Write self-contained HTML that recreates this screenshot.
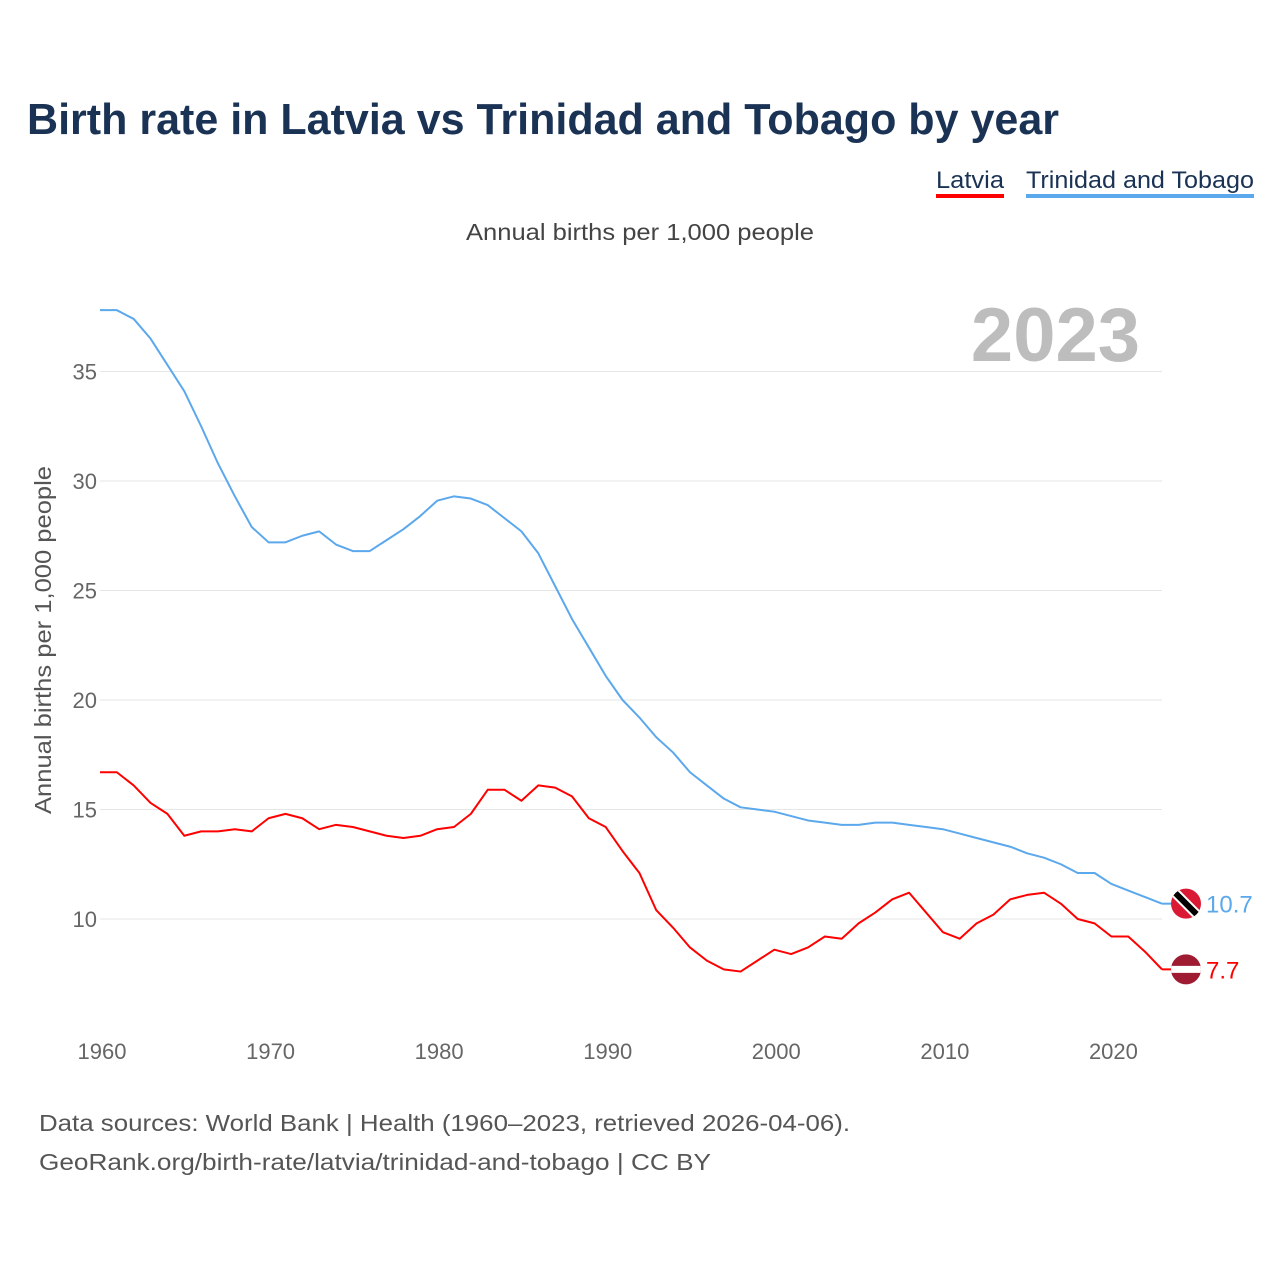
<!DOCTYPE html>
<html><head><meta charset="utf-8"><style>
body{margin:0;background:#fff;width:1280px;height:1280px;overflow:hidden;font-family:"Liberation Sans",sans-serif}
</style></head><body>
<svg id="chart" width="1280" height="1280" xmlns="http://www.w3.org/2000/svg">
<text x="27" y="134" font-size="44" font-weight="bold" fill="#1a3355" textLength="1032" lengthAdjust="spacingAndGlyphs">Birth rate in Latvia vs Trinidad and Tobago by year</text>
<g><text x="936" y="188" font-size="24" fill="#1a3355" textLength="68" lengthAdjust="spacingAndGlyphs">Latvia</text><rect x="936" y="194" width="68" height="4" fill="#ff0000"/></g>
<g><text x="1026" y="188" font-size="24" fill="#1a3355" textLength="228" lengthAdjust="spacingAndGlyphs">Trinidad and Tobago</text><rect x="1026" y="194" width="228" height="4" fill="#5ba8ec"/></g>
<text x="466" y="240" font-size="23" fill="#444" textLength="348" lengthAdjust="spacingAndGlyphs">Annual births per 1,000 people</text>
<text x="1140" y="361" font-size="76" font-weight="bold" fill="#bdbdbd" text-anchor="end">2023</text>
<text transform="translate(51,640) rotate(-90)" font-size="23" fill="#555" text-anchor="middle" textLength="348" lengthAdjust="spacingAndGlyphs">Annual births per 1,000 people</text>
<g id="grid"></g><g id="series"></g>
<text x="39" y="1131" font-size="23" fill="#555" textLength="811" lengthAdjust="spacingAndGlyphs">Data sources: World Bank | Health (1960–2023, retrieved 2026-04-06).</text>
<text x="39" y="1170" font-size="23" fill="#555" textLength="672" lengthAdjust="spacingAndGlyphs">GeoRank.org/birth-rate/latvia/trinidad-and-tobago | CC BY</text>
</svg>
<script>
const years=[];for(let y=1960;y<=2023;y++)years.push(y);
const latvia=[16.7,16.7,16.1,15.3,14.8,13.8,14.0,14.0,14.1,14.0,14.6,14.8,14.6,14.1,14.3,14.2,14.0,13.8,13.7,13.8,14.1,14.2,14.8,15.9,15.9,15.4,16.1,16.0,15.6,14.6,14.2,13.1,12.1,10.4,9.6,8.7,8.1,7.7,7.6,8.1,8.6,8.4,8.7,9.2,9.1,9.8,10.3,10.9,11.2,10.3,9.4,9.1,9.8,10.2,10.9,11.1,11.2,10.7,10.0,9.8,9.2,9.2,8.5,7.7];
const trinidad=[37.8,37.8,37.4,36.5,35.3,34.1,32.5,30.8,29.3,27.9,27.2,27.2,27.5,27.7,27.1,26.8,26.8,27.3,27.8,28.4,29.1,29.3,29.2,28.9,28.3,27.7,26.7,25.2,23.7,22.4,21.1,20.0,19.2,18.3,17.6,16.7,16.1,15.5,15.1,15.0,14.9,14.7,14.5,14.4,14.3,14.3,14.4,14.4,14.3,14.2,14.1,13.9,13.7,13.5,13.3,13.0,12.8,12.5,12.1,12.1,11.6,11.3,11.0,10.7];
const yTicks=[10,15,20,25,30,35];
const xTicks=[1960,1970,1980,1990,2000,2010,2020];
const X=y=>100+(y-1960)*(1062/63);
const Y=v=>919-(v-10)*21.9;
const NS="http://www.w3.org/2000/svg";
const grid=document.getElementById('grid'),ser=document.getElementById('series');
function mk(tag,attrs,parent){const e=document.createElementNS(NS,tag);for(const k in attrs)e.setAttribute(k,attrs[k]);parent.appendChild(e);return e;}
yTicks.forEach(t=>{
 const l=mk('line',{x1:100,x2:1162,y1:Y(t),y2:Y(t),stroke:'#e6e6e6','stroke-width':1},grid);
 
 
 const tx=mk('text',{x:97,y:Y(t)+8,'font-size':22,fill:'#666','text-anchor':'end'},grid);tx.textContent=t;
 
 
});
xTicks.forEach(t=>{
 const tx=mk('text',{x:X(t)+2,y:1059,'font-size':22,fill:'#666','text-anchor':'middle'},grid);tx.textContent=t;
 
 
});
function line(data,color,name){
 const p=mk('polyline',{points:data.map((v,i)=>X(years[i])+','+Y(v)).join(' '),fill:'none',stroke:color,'stroke-width':2,'stroke-linejoin':'round'},ser);
 
 
}
line(trinidad,'#5ba8ec','line-trinidad');
line(latvia,'#ff0000','line-latvia');
const last=years.length-1,fx=1186;
const ty=Y(trinidad[last]);
mk('line',{x1:X(years[last]),x2:fx-14,y1:ty,y2:ty,stroke:'#5ba8ec','stroke-width':2},ser);
const tg=mk('g',{},ser);


mk('clipPath',{id:'ct'},tg);mk('circle',{cx:fx,cy:ty,r:15},tg.lastChild);
mk('circle',{cx:fx,cy:ty,r:15,fill:'#da1a35'},tg);
mk('line',{x1:fx-15,y1:ty-15,x2:fx+15,y2:ty+15,stroke:'#fff','stroke-width':10,'clip-path':'url(#ct)'},tg);
mk('line',{x1:fx-15,y1:ty-15,x2:fx+15,y2:ty+15,stroke:'#000','stroke-width':6,'clip-path':'url(#ct)'},tg);
const tl=mk('text',{x:1206,y:ty+9,'font-size':24,fill:'#5ba8ec'},ser);tl.textContent=trinidad[last];


const ly=Y(latvia[last]);
mk('line',{x1:X(years[last]),x2:fx-14,y1:ly,y2:ly,stroke:'#ff0000','stroke-width':2},ser);
const lg=mk('g',{},ser);


mk('clipPath',{id:'cl'},lg);mk('circle',{cx:fx,cy:ly,r:15},lg.lastChild);
mk('circle',{cx:fx,cy:ly,r:15,fill:'#9e1b32'},lg);
mk('rect',{x:fx-15,y:ly-3.5,width:30,height:7,fill:'#fff','clip-path':'url(#cl)'},lg);
const ll=mk('text',{x:1206,y:ly+9,'font-size':24,fill:'#ff0000'},ser);ll.textContent=latvia[last];


</script>
</body></html>
